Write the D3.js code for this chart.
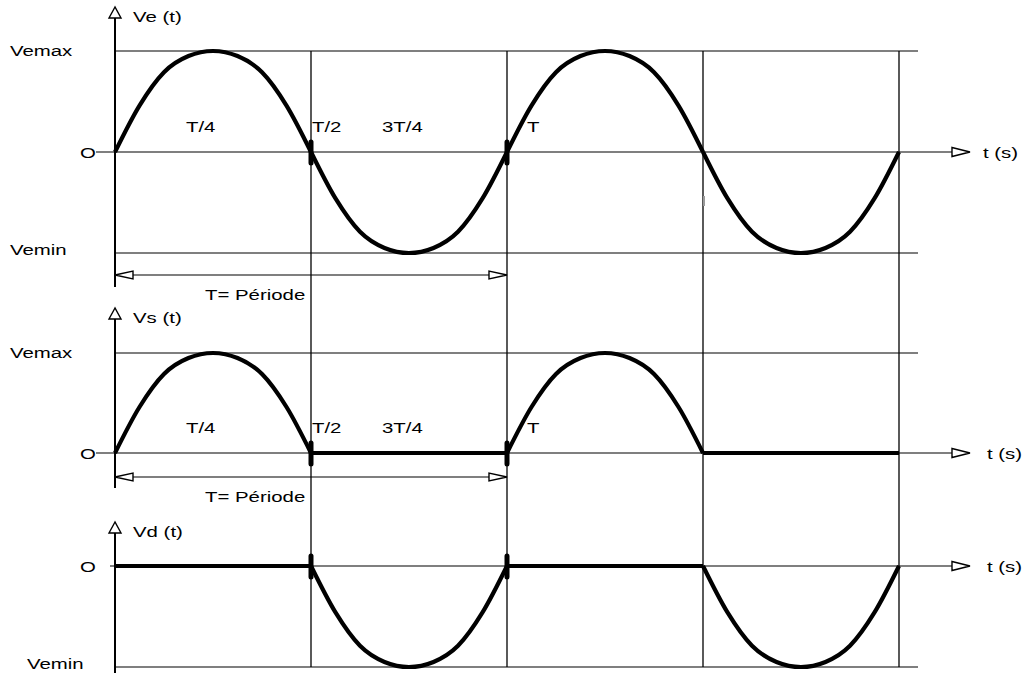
<!DOCTYPE html>
<html>
<head>
<meta charset="utf-8">
<script src="https://cdn.jsdelivr.net/npm/d3@7"></script>
<style>
  body { margin: 0; background: #fff; }
  text { font-family: "Liberation Sans", Arial, sans-serif; font-size: 15px; fill: #000; }
</style>
</head>
<body>
<div id="chart"></div>
<script>
// time in periods, sampled every T/16 over two periods
var times = d3.range(33).map(i => i / 16);
var ve = [0, 0.46, 0.79, 0.95, 1, 0.95, 0.79, 0.46, 0,
          -0.46, -0.79, -0.95, -1, -0.95, -0.79, -0.46, 0,
          0.46, 0.79, 0.95, 1, 0.95, 0.79, 0.46, 0,
          -0.46, -0.79, -0.95, -1, -0.95, -0.79, -0.46, 0];
var vs = [0, 0.46, 0.79, 0.95, 1, 0.95, 0.79, 0.46, 0,
          0, 0, 0, 0, 0, 0, 0, 0,
          0.46, 0.79, 0.95, 1, 0.95, 0.79, 0.46, 0,
          0, 0, 0, 0, 0, 0, 0, 0];
var vd = [0, 0, 0, 0, 0, 0, 0, 0, 0,
          -0.46, -0.79, -0.95, -1, -0.95, -0.79, -0.46, 0,
          0, 0, 0, 0, 0, 0, 0, 0,
          -0.46, -0.79, -0.95, -1, -0.95, -0.79, -0.46, 0];
var tickLabels = ["T/4", "T/2", "3T/4", "T"];
var tickTimes = [0.25, 0.5, 0.75, 1];
var gridTimes = [0.5, 1, 1.5, 2];
var markTimes = [0.5, 1];

var width = 1025, height = 673,
    stretch = 1.36;

var svg = d3.select("#chart").append("svg")
    .attr("width", width)
    .attr("height", height);

svg.append("rect").attr("width", width).attr("height", height).attr("fill", "#fff");

var x = d3.scaleLinear().domain([0, 2]).range([115, 899]);

// panels: y scales and layout
var panels = [
  {name: "Ve (t)", data: ve, y: d3.scaleLinear().domain([-1, 1]).range([253, 51]),
   top: 7, bottom: 287, max: true, min: true, dash: true, period: 275, labY: 132, minX: 10},
  {name: "Vs (t)", data: vs, y: d3.scaleLinear().domain([-1, 1]).range([553, 353]),
   top: 308, bottom: 488, max: true, min: false, dash: true, period: 477, labY: 433},
  {name: "Vd (t)", data: vd, y: d3.scaleLinear().domain([-1, 1]).range([667, 465]),
   top: 522, bottom: 673, max: false, min: true, dash: false, period: null, labY: null, minX: 27}
];

var labelDx = [-27, 1, -27, 20];

function label(g, tx, ty, s) {
  g.append("text")
    .attr("transform", "translate(" + tx + "," + ty + ") scale(" + stretch + ",1)")
    .text(s);
}

function triangle(g, pts) {
  g.append("path")
    .attr("d", "M" + pts.map(p => p.join(",")).join("L") + "Z")
    .attr("fill", "#fff")
    .attr("stroke", "#000")
    .attr("stroke-width", 1.4);
}

// vertical grid lines across all panels
svg.append("g").selectAll("line")
  .data(gridTimes)
  .enter().append("line")
    .attr("x1", d => x(d)).attr("x2", d => x(d))
    .attr("y1", panels[0].y(1)).attr("y2", panels[2].y(-1))
    .attr("stroke", "#000").attr("stroke-width", 1.3);

var line = d3.line()
    .x(d => x(d[0]))
    .curve(d3.curveMonotoneX);

panels.forEach(p => {
  var g = svg.append("g");
  var y0 = p.y(0);

  // level lines
  if (p.max) {
    g.append("line").attr("x1", x(0)).attr("x2", 918)
      .attr("y1", p.y(1)).attr("y2", p.y(1))
      .attr("stroke", "#000").attr("stroke-width", 1.1);
    label(g, 10, p.y(1) + 5, "Vemax");
  }
  if (p.min) {
    g.append("line").attr("x1", x(0)).attr("x2", 918)
      .attr("y1", p.y(-1)).attr("y2", p.y(-1))
      .attr("stroke", "#000").attr("stroke-width", 1.1);
    label(g, p.minX, p.y(-1) + 2, "Vemin");
  }

  // time axis
  g.append("line").attr("x1", p.dash ? 96 : 110).attr("x2", 952)
    .attr("y1", y0).attr("y2", y0)
    .attr("stroke", "#000").attr("stroke-width", 1.2);
  triangle(g, [[952, y0 - 4.5], [970, y0], [952, y0 + 4.5]]);
  label(g, p === panels[0] ? 983 : 987, y0 + 6, "t (s)");
  label(g, 80, y0 + 6, "O");

  // vertical axis
  g.append("line").attr("x1", x(0)).attr("x2", x(0))
    .attr("y1", p.top + 11).attr("y2", p.bottom)
    .attr("stroke", "#000").attr("stroke-width", 2);
  triangle(g, [[x(0), p.top], [x(0) - 6, p.top + 11], [x(0) + 6, p.top + 11]]);
  label(g, 133, p.top + 15, p.name);

  // tick labels
  if (p.labY) {
    tickLabels.forEach((t, i) => label(g, x(tickTimes[i]) + labelDx[i], p.labY, t));
  }

  // period arrow
  if (p.period) {
    var py = p.period;
    g.append("line").attr("x1", x(0) + 18).attr("x2", x(1) - 18)
      .attr("y1", py).attr("y2", py)
      .attr("stroke", "#000").attr("stroke-width", 1.2);
    triangle(g, [[x(0), py], [x(0) + 18, py - 4], [x(0) + 18, py + 4]]);
    triangle(g, [[x(1), py], [x(1) - 18, py - 4], [x(1) - 18, py + 4]]);
    label(g, 205, py + 25, "T= Période");
  }

  // signal, drawn half period by half period
  var pts = times.map((t, i) => [t, p.data[i]]);
  line.y(d => p.y(d[1]));
  for (var k = 0; k < 4; k++) {
    g.append("path")
      .attr("d", line(pts.slice(k * 8, k * 8 + 9)))
      .attr("fill", "none")
      .attr("stroke", "#000")
      .attr("stroke-width", 4.2);
  }

  // thick marks at zero crossings
  g.selectAll("line.mark")
    .data(markTimes)
    .enter().append("line")
      .attr("class", "mark")
      .attr("x1", d => x(d)).attr("x2", d => x(d))
      .attr("y1", y0 - 10).attr("y2", y0 + 11)
      .attr("stroke", "#000").attr("stroke-width", 5)
      .attr("stroke-linecap", "round");
});

// small grey mark near the third grid line
svg.append("line")
  .attr("x1", x(1.5) + 1).attr("x2", x(1.5) + 1)
  .attr("y1", 196).attr("y2", 206)
  .attr("stroke", "#999").attr("stroke-width", 2);
</script>
</body>
</html>
